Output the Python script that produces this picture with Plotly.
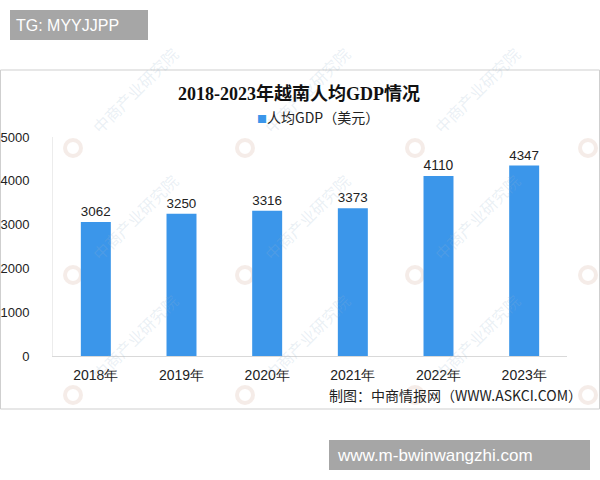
import plotly.graph_objects as go

years = ["2018年", "2019年", "2020年", "2021年", "2022年", "2023年"]
gdp_per_capita = [3062, 3250, 3316, 3373, 4110, 4347]
series_name = "人均GDP（美元）"
title_text = "2018-2023年越南人均GDP情况"
source_text = "制图：中商情报网（WWW.ASKCI.COM）"
top_tag = "TG: MYYJJPP"
bottom_tag = "www.m-bwinwangzhi.com"
watermark_text = "中商产业研究院"

W, H = 600, 480
L, R, T, B = 53, 33, 137, 124
PW, PH = W - L - R, H - T - B
BAR_COLOR = "#3b96ea"


def px(x):
    return (x - L) / PW


def py(y):
    return (H - B - y) / PH


fig = go.Figure()
fig.add_trace(go.Bar(
    x=years, y=gdp_per_capita, name=series_name,
    marker=dict(color=BAR_COLOR, line=dict(width=0)),
    width=0.35,
    text=[str(v) for v in gdp_per_capita], textposition="outside",
    textfont=dict(family="Liberation Sans, Arial", size=14, color="#222"),
    cliponaxis=False, showlegend=False, hoverinfo="skip",
))

shapes = [
    dict(type="rect", xref="paper", yref="paper", x0=px(0.5), x1=px(599.5), y0=py(409), y1=py(70),
         line=dict(color="#cfcfcf", width=1), fillcolor="rgba(0,0,0,0)", layer="below"),
    dict(type="rect", xref="paper", yref="paper", x0=px(10), x1=px(148), y0=py(40), y1=py(10),
         line=dict(width=0), fillcolor="#a6a6a6"),
    dict(type="rect", xref="paper", yref="paper", x0=px(329), x1=px(590), y0=py(470), y1=py(440),
         line=dict(width=0), fillcolor="#a6a6a6"),
]

annotations = []
# faint watermarks
for lx in [73, 245, 415, 588]:
    for ly in [148, 275, 395]:
        shapes.append(dict(type="circle", xref="paper", yref="paper",
                           x0=px(lx - 8), x1=px(lx + 8), y0=py(ly + 8), y1=py(ly - 8),
                           line=dict(color="rgba(200,150,130,0.18)", width=4),
                           fillcolor="rgba(0,0,0,0)", layer="below"))
        if lx < 500:
            annotations.append(dict(text=watermark_text, xref="paper", yref="paper",
                                    x=px(lx + 62), y=py(ly - 58), showarrow=False, textangle=-45,
                                    xanchor="center", yanchor="middle",
                                    font=dict(family="Noto Sans CJK SC", size=16,
                                              color="rgba(150,180,205,0.2)")))

annotations += [
    dict(text="<b>" + title_text + "</b>", xref="paper", yref="paper", x=px(299), y=py(93),
         showarrow=False, xanchor="center", yanchor="middle",
         font=dict(family="Liberation Serif, Noto Sans CJK SC", size=18, color="#111")),
    dict(text="<span style='color:" + BAR_COLOR + ";font-size:10px'>■</span>" + series_name,
         xref="paper", yref="paper", x=px(255), y=py(117),
         showarrow=False, xanchor="left", yanchor="middle",
         font=dict(family="Noto Sans CJK SC", size=14, color="#222")),
    dict(text=source_text, xref="paper", yref="paper", x=px(584), y=py(395),
         showarrow=False, xanchor="right", yanchor="middle",
         font=dict(family="Noto Sans CJK SC", size=14, color="#222")),
    dict(text=top_tag, xref="paper", yref="paper", x=px(14), y=py(25),
         showarrow=False, xanchor="left", yanchor="middle",
         font=dict(family="Liberation Sans, Arial", size=16, color="white")),
    dict(text=bottom_tag, xref="paper", yref="paper", x=px(335), y=py(455),
         showarrow=False, xanchor="left", yanchor="middle",
         font=dict(family="Liberation Sans, Arial", size=17, color="white")),
]

fig.update_layout(
    width=W, height=H,
    margin=dict(l=L, r=R, t=T, b=B, autoexpand=False),
    paper_bgcolor="white", plot_bgcolor="white",
    showlegend=False, hovermode=False,
    shapes=shapes, annotations=annotations,
)
fig.update_xaxes(showline=True, linecolor="#d9d9d9", ticks="", ticklabelstandoff=6,
                 tickfont=dict(family="Liberation Sans, Arial", size=14, color="#222"))
fig.update_yaxes(range=[0, 5000], dtick=1000, showgrid=False, zeroline=False,
                 showline=True, linecolor="#ececec",
                 ticklabelstandoff=20,
                 tickfont=dict(family="Liberation Sans, Arial", size=13, color="#222"))

fig.write_html("out.html", config={"displayModeBar": False},
               post_script="document.body.style.margin='0px';")
